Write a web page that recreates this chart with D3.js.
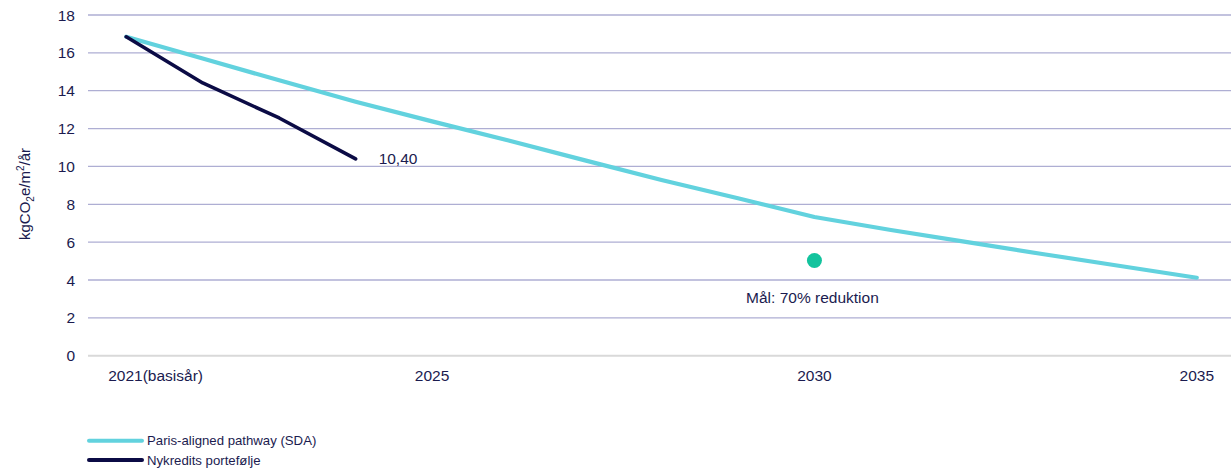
<!DOCTYPE html>
<html><head><meta charset="utf-8">
<script src="https://cdn.jsdelivr.net/npm/d3@7"></script>
<style>
html,body{margin:0;padding:0;background:#fff;}
svg{display:block;font-family:"Liberation Sans",Arial,sans-serif;}
</style></head>
<body><svg id="c" width="1231" height="468"></svg>
<script>
const years = [2021,2022,2023,2024,2025,2026,2027,2028,2029,2030,2031,2032,2033,2034,2035];
const sdaValues = [16.85,15.70,14.55,13.42,12.38,11.37,10.32,9.28,8.32,7.33,6.64,6.00,5.36,4.74,4.12];
const nykYears = [2021,2022,2023,2024];
const nykValues = [16.85,14.41,12.56,10.40];
const targetYear = 2030, targetValue = 5.03;
const yTicks = [0,2,4,6,8,10,12,14,16,18];
const xTickYears = [2021,2025,2030,2035];
const xTickLabels = ["2021(basisår)","2025","2030","2035"];
const seriesNames = ["Paris-aligned pathway (SDA)","Nykredits portefølje"];

const svg = d3.select("#c");
const textCol = "#1b1b4f";
const x = d3.scalePoint().domain(years).range([88,1235]).padding(0.5);
const y = d3.scaleLinear().domain([0,18]).range([355.7,15]);

// grid
svg.append("g").selectAll("line").data(yTicks.filter(d=>d>0)).join("line")
  .attr("x1",88).attr("x2",1231).attr("y1",d=>y(d)).attr("y2",d=>y(d))
  .attr("stroke","#aeaed3").attr("stroke-width",1.3);
svg.append("line").attr("x1",88).attr("x2",1231).attr("y1",y(0)).attr("y2",y(0))
  .attr("stroke","#d9d9d9").attr("stroke-width",2);

// y labels
svg.append("g").selectAll("text").data(yTicks).join("text")
  .attr("x",75).attr("y",d=>y(d)).attr("dy","0.36em").attr("text-anchor","end")
  .attr("font-size",15.5).attr("fill",textCol).text(d=>d);

// x labels
svg.append("g").selectAll("text").data(xTickYears).join("text")
  .attr("x",(d,i)=> i===0 ? x(d)-18 : x(d)).attr("y",381)
  .attr("text-anchor",(d,i)=> i===0 ? "start" : "middle")
  .attr("font-size",15.5).attr("fill",textCol).text((d,i)=>xTickLabels[i]);

// y title
const yt = svg.append("text").attr("transform","translate(30,194) rotate(-90)")
  .attr("text-anchor","middle").attr("font-size",15).attr("fill",textCol);
yt.append("tspan").text("kgCO");
yt.append("tspan").attr("font-size",10).attr("dy",4).text("2");
yt.append("tspan").attr("dy",-4).text("e/m");
yt.append("tspan").attr("font-size",10).attr("dy",-6).text("2");
yt.append("tspan").attr("dy",6).text("/år");

const line = d3.line().x(d=>x(d[0])).y(d=>y(d[1]));
svg.append("path").datum(years.map((d,i)=>[d,sdaValues[i]]))
  .attr("d",line).attr("fill","none").attr("stroke","#62d2de").attr("stroke-width",4.2)
  .attr("stroke-linejoin","round").attr("stroke-linecap","round");
svg.append("path").datum(nykYears.map((d,i)=>[d,nykValues[i]]))
  .attr("d",line).attr("fill","none").attr("stroke","#0b0b45").attr("stroke-width",3.6)
  .attr("stroke-linejoin","round").attr("stroke-linecap","round");

// labels
svg.append("text").attr("x",x(2024)+23).attr("y",y(10.40)+5)
  .attr("font-size",15.5).attr("fill",textCol).text("10,40");

svg.append("circle").attr("cx",x(targetYear)).attr("cy",y(targetValue)).attr("r",7.5)
  .attr("fill","#13c39d");
svg.append("text").attr("x",x(targetYear)-2).attr("y",303).attr("text-anchor","middle")
  .attr("font-size",15.5).attr("fill",textCol).text("Mål: 70% reduktion");

// legend
const leg = svg.append("g");
const legCols = ["#62d2de","#0b0b45"];
const legY = [440.7,460];
seriesNames.forEach((n,i)=>{
  leg.append("line").attr("x1",89).attr("x2",142).attr("y1",legY[i]).attr("y2",legY[i])
    .attr("stroke",legCols[i]).attr("stroke-width",4).attr("stroke-linecap","round");
  leg.append("text").attr("x",147).attr("y",legY[i]).attr("dy","0.35em")
    .attr("font-size",13.2).attr("fill",textCol).text(n);
});
</script></body></html>
